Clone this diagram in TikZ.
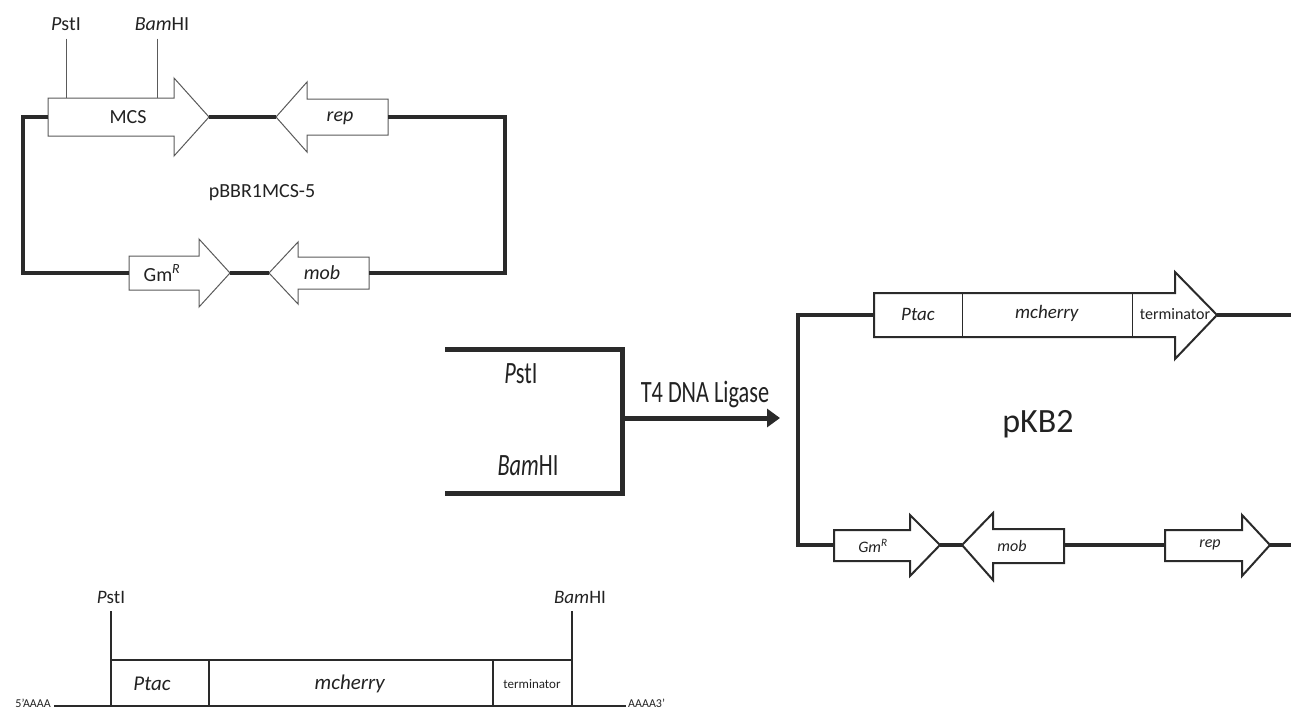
\documentclass[tikz,border=0pt]{standalone}
\usepackage{fontspec}
\setmainfont{Carlito}
\newfontfamily\narrowfont[FakeStretch=0.72]{Carlito}
\usetikzlibrary{arrows.meta,positioning}
\definecolor{ink}{HTML}{2A2A2A}
\definecolor{textink}{HTML}{222222}
\definecolor{thinink}{HTML}{5A5A5A}
\tikzset{
  loopline/.style={draw=ink,line width=4.5pt,line join=miter},
  thingene/.style={draw=thinink,fill=white,line width=1pt,line join=miter},
  thickgene/.style={draw=ink,fill=white,line width=2pt,line join=miter},
  siteline/.style={draw=thinink,line width=1pt},
  insertline/.style={draw=ink,line width=2.5pt},
  lbl/.style={inner sep=0pt,text=textink},
}
\begin{document}
\begin{tikzpicture}[x=1pt,y=-1pt]
\useasboundingbox (0,0) rectangle (1291,710);

% pBBR1MCS-5
\draw[thingene] (48,98) -- (174,98) -- (174,78) -- (209,117) -- (174,156) -- (174,136) -- (48,136) -- cycle;
\draw[thingene] (388,99) -- (307,99) -- (307,82) -- (276,117) -- (307,152) -- (307,135) -- (388,135) -- cycle;
\draw[thingene] (129,256) -- (199,256) -- (199,239) -- (230,273) -- (199,307) -- (199,290) -- (129,290) -- cycle;
\draw[thingene] (369,257) -- (298,257) -- (298,242) -- (269,273) -- (298,304) -- (298,289) -- (369,289) -- cycle;
\coordinate (mcsL) at (48,117);
\coordinate (mcsT) at (209,117);
\coordinate (repT) at (276,117);
\coordinate (repR) at (388,117);
\coordinate (gmL) at (129,273);
\coordinate (gmT) at (230,273);
\coordinate (mobT) at (269,273);
\coordinate (mobR) at (369,273);
\coordinate (tl) at (23,117);
\coordinate (bl) at (23,273);
\coordinate (br) at (505,273);
\coordinate (tr) at (505,117);
\draw[loopline] (mcsL) -- (tl) -- (bl) -- (gmL);
\draw[loopline] (gmT) -- (mobT);
\draw[loopline] (mobR) -- (br) -- (tr) -- (repR);
\draw[loopline] (repT) -- (mcsT);
\node[lbl,font=\fontsize{20}{24}\selectfont] (mcs) at (128,117) {MCS};
\node[lbl,font=\fontsize{20}{24}\selectfont] (rep) at (340,118) {\textit{rep}};
\node[lbl,font=\fontsize{20}{24}\selectfont] (gm) at (162,273) {Gm\textsuperscript{\textit{R}}};
\node[lbl,font=\fontsize{20}{24}\selectfont] (mob) at (322,273) {\textit{mob}};
\node[lbl,font=\fontsize{20}{24}\selectfont] (vec) at (262,193) {pBBR1MCS-5};
\node[lbl,font=\fontsize{20}{24}\selectfont] (pstA) at (66,24) {\textit{P}stI};
\node[lbl,font=\fontsize{20}{24}\selectfont] (bamA) at (162,24) {\textit{Bam}HI};
\coordinate (pstSite) at (66,98);
\coordinate (bamSite) at (157,98);
\draw[siteline] (pstA.south) ++(0,8) -- (pstSite);
\draw[siteline] (bamSite |- pstA.south) ++(0,8) -- (bamSite);

% ligation
\coordinate (cutT) at (445,349);
\coordinate (cutB) at (445,493);
\coordinate (joinT) at (622,349);
\coordinate (joinB) at (622,493);
\coordinate (lig) at (622,418);
\coordinate (ligEnd) at (780,418);
\draw[loopline,line width=5pt] (cutT) -- (joinT) -- (joinB) -- (cutB);
\draw[loopline,line width=5pt,-{Triangle[length=13pt,width=18pt]}] (lig) -- (ligEnd);
\node[lbl,font=\narrowfont\fontsize{31}{36}\selectfont] (pstB) at (521,374) {\textit{P}stI};
\node[lbl,font=\narrowfont\fontsize{31}{36}\selectfont] (bamB) at (528,466) {\textit{Bam}HI};
\node[lbl,font=\narrowfont\fontsize{31}{36}\selectfont] (ligase) at (705,394) {T4 DNA Ligase};

% pKB2
\draw[thickgene] (874,293) -- (1175,293) -- (1175,272) -- (1217,315) -- (1175,359) -- (1175,337) -- (874,337) -- cycle;
\draw[line width=1pt,draw=ink] (962,294) -- (962,336) (1132,294) -- (1132,336);
\draw[thickgene] (834,530) -- (910,530) -- (910,515) -- (940,545) -- (910,576) -- (910,561) -- (834,561) -- cycle;
\draw[thickgene] (1064,529) -- (993,529) -- (993,513) -- (962,545) -- (993,580) -- (993,563) -- (1064,563) -- cycle;
\draw[thickgene] (1165,530) -- (1242,530) -- (1242,515) -- (1270,545) -- (1242,576) -- (1242,561) -- (1165,561) -- cycle;
\coordinate (cassL) at (874,315);
\coordinate (cassT) at (1217,315);
\coordinate (gm2L) at (834,545);
\coordinate (gm2T) at (940,545);
\coordinate (mob2T) at (962,545);
\coordinate (mob2R) at (1064,545);
\coordinate (rep2L) at (1165,545);
\coordinate (rep2T) at (1270,545);
\coordinate (ktl) at (798,315);
\coordinate (kbl) at (798,545);
\coordinate (ktr) at (1291,315);
\coordinate (kbr) at (1291,545);
\draw[loopline] (cassL) -- (ktl) -- (kbl) -- (gm2L);
\draw[loopline] (gm2T) -- (mob2T);
\draw[loopline] (mob2R) -- (rep2L);
\draw[loopline] (rep2T) -- (kbr);
\draw[loopline] (cassT) -- (ktr);
\node[lbl,font=\fontsize{19}{23}\selectfont] (ptac2) at (918,314) {\textit{Ptac}};
\node[lbl,font=\fontsize{19}{23}\selectfont] (mch2) at (1047,313) {\textit{mcherry}};
\node[lbl,font=\fontsize{16}{19}\selectfont] (term2) at (1175,314) {terminator};
\node[lbl,font=\fontsize{16}{19}\selectfont] (gm2) at (873,546) {\textit{Gm\textsuperscript{R}}};
\node[lbl,font=\fontsize{16}{19}\selectfont] (mob2) at (1012,546) {\textit{mob}};
\node[lbl,font=\fontsize{16}{19}\selectfont] (rep2) at (1210,545) {\textit{rep}};
\node[lbl,font=\fontsize{34}{40}\selectfont] (kb2) at (1038,424) {pKB2};

% insert
\coordinate (dnaL) at (54,706);
\coordinate (dnaR) at (626,706);
\coordinate (pstBase) at (111,706);
\coordinate (bamBase) at (572,706);
\coordinate (pstTop) at (111,611);
\coordinate (bamTop) at (572,611);
\draw[insertline] (dnaL) -- (dnaR);
\draw[insertline] (pstTop) -- (pstBase);
\draw[insertline] (bamTop) -- (bamBase);
\draw[insertline] (111,660) -- (572,660);
\draw[insertline] (209,660) -- (209,706) (493,660) -- (493,706);
\node[lbl,font=\fontsize{19}{23}\selectfont] (pstC) at (111,597) {\textit{P}stI};
\node[lbl,font=\fontsize{19}{23}\selectfont] (bamC) at (580,597) {\textit{Bam}HI};
\node[lbl,font=\fontsize{21}{25}\selectfont] (ptac) at (152,684) {\textit{Ptac}};
\node[lbl,font=\fontsize{21}{25}\selectfont] (mch) at (350,684) {\textit{mcherry}};
\node[lbl,font=\fontsize{13}{16}\selectfont] (term) at (532,684) {terminator};
\node[lbl,font=\fontsize{12}{14}\selectfont,anchor=east] (five) at (51,703) {5'AAAA};
\node[lbl,font=\fontsize{12}{14}\selectfont,anchor=west] (three) at (628,703) {AAAA3'};
\end{tikzpicture}
\end{document}
